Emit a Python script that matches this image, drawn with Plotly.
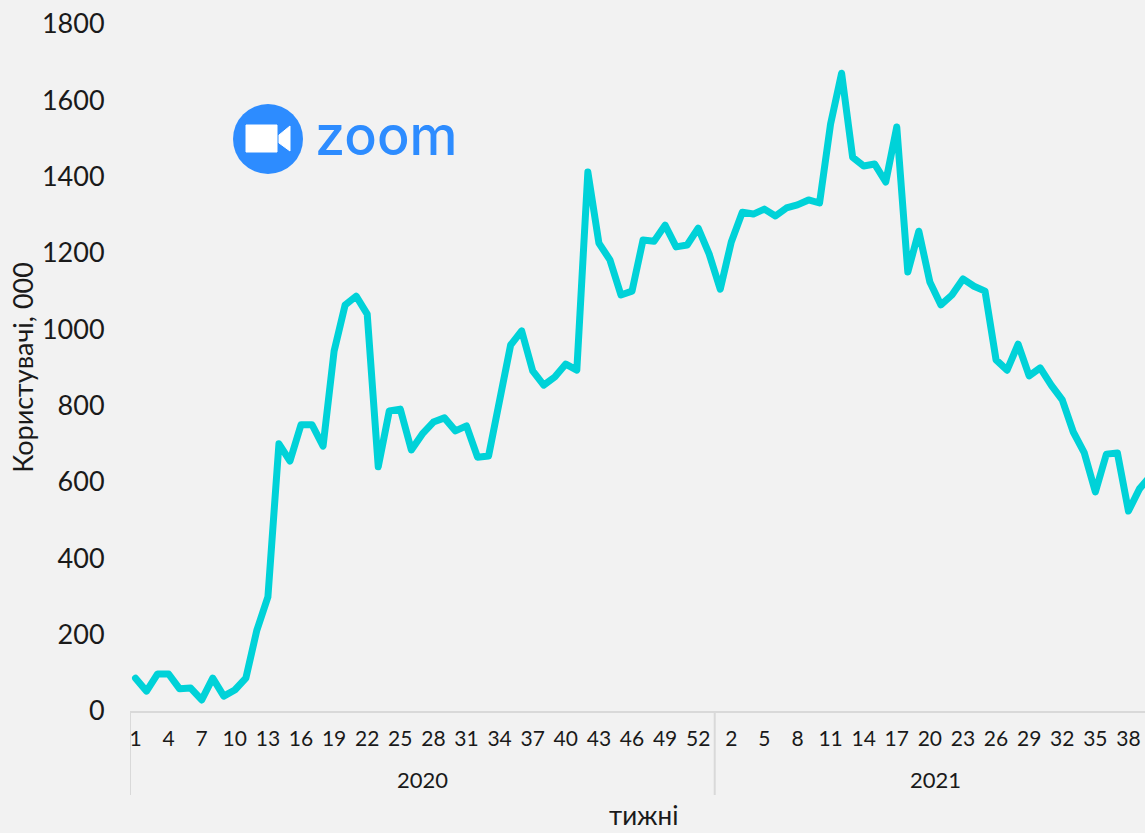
import plotly.graph_objects as go

years = [2020, 2021]
weeks_2020 = list(range(1, 54))
weeks_2021 = list(range(1, 41))
users_2020 = [86, 52, 97, 97, 58, 60, 29, 86, 39, 55, 86, 212, 299, 700, 655, 750, 750, 694, 943, 1064,
              1087, 1040, 640, 786, 791, 684, 726, 757, 768, 734, 747, 665, 668, 815, 959, 996, 891, 854, 875, 909,
              893, 1412, 1226, 1182, 1090, 1100, 1234, 1231, 1273, 1216, 1221, 1265, 1197]
users_2021 = [1105, 1229, 1307, 1302, 1315, 1297, 1318, 1326, 1339, 1331, 1538, 1671, 1451, 1428, 1433, 1386, 1530, 1150, 1257, 1124,
              1064, 1090, 1132, 1113, 1100, 920, 893, 961, 878, 899, 854, 815, 731, 676, 574, 673, 676, 524, 582, 616]
y_ticks = [0, 200, 400, 600, 800, 1000, 1200, 1400, 1600, 1800]
y_title = "Користувачі, 000"
x_title = "тижні"
logo_text = "zoom"

BG = "#f2f2f2"
LINE = "#00d2d8"
AXIS = "#d9d9d9"
TEXT = "#1a1a1a"
BLUE = "#2d8cff"
FONT = "Lato, 'Open Sans', sans-serif"

weeks = weeks_2020 + weeks_2021
users = users_2020 + users_2021
index = list(range(len(weeks)))
tick_idx = index[::3]
tick_txt = [str(weeks[i]) for i in tick_idx]

W, H = 1145, 833
ML, MR, MT, MB = 130, 0, 24, 122
PW, PH = W - ML - MR, H - MT - MB
px = lambda x: (x - ML) / PW
py = lambda y: (H - MB - y) / PH

fig = go.Figure(go.Scatter(
    x=index, y=users, mode="lines",
    line=dict(color=LINE, width=7, shape="linear"),
    hoverinfo="y", showlegend=False,
))

split = len(weeks_2020) - 0.5
groups = [(-0.5, split, years[0]), (split, len(weeks) - 0.5, years[1])]
shapes = []
for b in (-0.5, split):
    shapes.append(dict(type="line", xref="x", yref="paper", x0=b, x1=b, y0=0, y1=py(795),
                       line=dict(color=AXIS, width=2)))

# Logo
shapes += [
    dict(type="circle", xref="paper", yref="paper", x0=px(233), x1=px(303), y0=py(174), y1=py(104),
         fillcolor=BLUE, line=dict(width=0), layer="above"),
    dict(type="rect", xref="paper", yref="paper", x0=px(246), x1=px(277), y0=py(152), y1=py(125),
         fillcolor="white", line=dict(color="white", width=1), layer="above"),
    dict(type="path", xref="paper", yref="paper",
         path=f"M {px(279)} {py(135)} L {px(290)} {py(126)} L {px(290)} {py(151)} L {px(279)} {py(143)} Z",
         fillcolor="white", line=dict(color="white", width=1), layer="above"),
]

annotations = [
    dict(x=(a + b) / 2, y=py(780), xref="x", yref="paper", text=str(yr), showarrow=False,
         font=dict(size=22, color=TEXT, family=FONT), xanchor="center", yanchor="middle")
    for a, b, yr in groups
]
annotations.append(dict(x=px(386), y=py(135), xref="paper", yref="paper", text=logo_text, showarrow=False,
                        font=dict(size=54, color=BLUE, family="Inter, Lato, sans-serif", weight=500),
                        xanchor="center", yanchor="middle"))
annotations.append(dict(x=px(643), y=py(815), xref="paper", yref="paper", text=x_title, showarrow=False,
                        font=dict(size=26, color=TEXT, family=FONT), xanchor="center", yanchor="middle",
                        borderpad=0))

fig.update_layout(
    width=W, height=H,
    margin=dict(l=ML, r=MR, t=MT, b=MB, pad=0),
    paper_bgcolor=BG, plot_bgcolor=BG,
    font=dict(family=FONT, color=TEXT),
    shapes=shapes, annotations=annotations,
    xaxis=dict(
        range=[-0.5, 91.5], tickmode="array", tickvals=tick_idx, ticktext=tick_txt,
        tickfont=dict(size=21, color=TEXT), tickangle=0,
        showgrid=False, zeroline=False, showline=True, linecolor=AXIS, linewidth=2,
        ticks="outside", ticklen=8, tickcolor="rgba(0,0,0,0)",
    ),
    yaxis=dict(
        range=[0, 1800], tickmode="array", tickvals=y_ticks,
        tickfont=dict(size=27, color=TEXT),
        showgrid=False, zeroline=False, showline=False,
        ticks="outside", ticklen=19, tickcolor="rgba(0,0,0,0)",
        title=dict(text=y_title, font=dict(size=27, color=TEXT), standoff=0),
    ),
)
fig.write_html("out.html", config=dict(displayModeBar=False),
               post_script="document.body.style.margin='0';document.documentElement.style.overflow='hidden';"
                           "document.querySelectorAll('.js-line').forEach(function(p){"
                           "p.style.strokeLinejoin='round';p.style.strokeLinecap='round';});")
